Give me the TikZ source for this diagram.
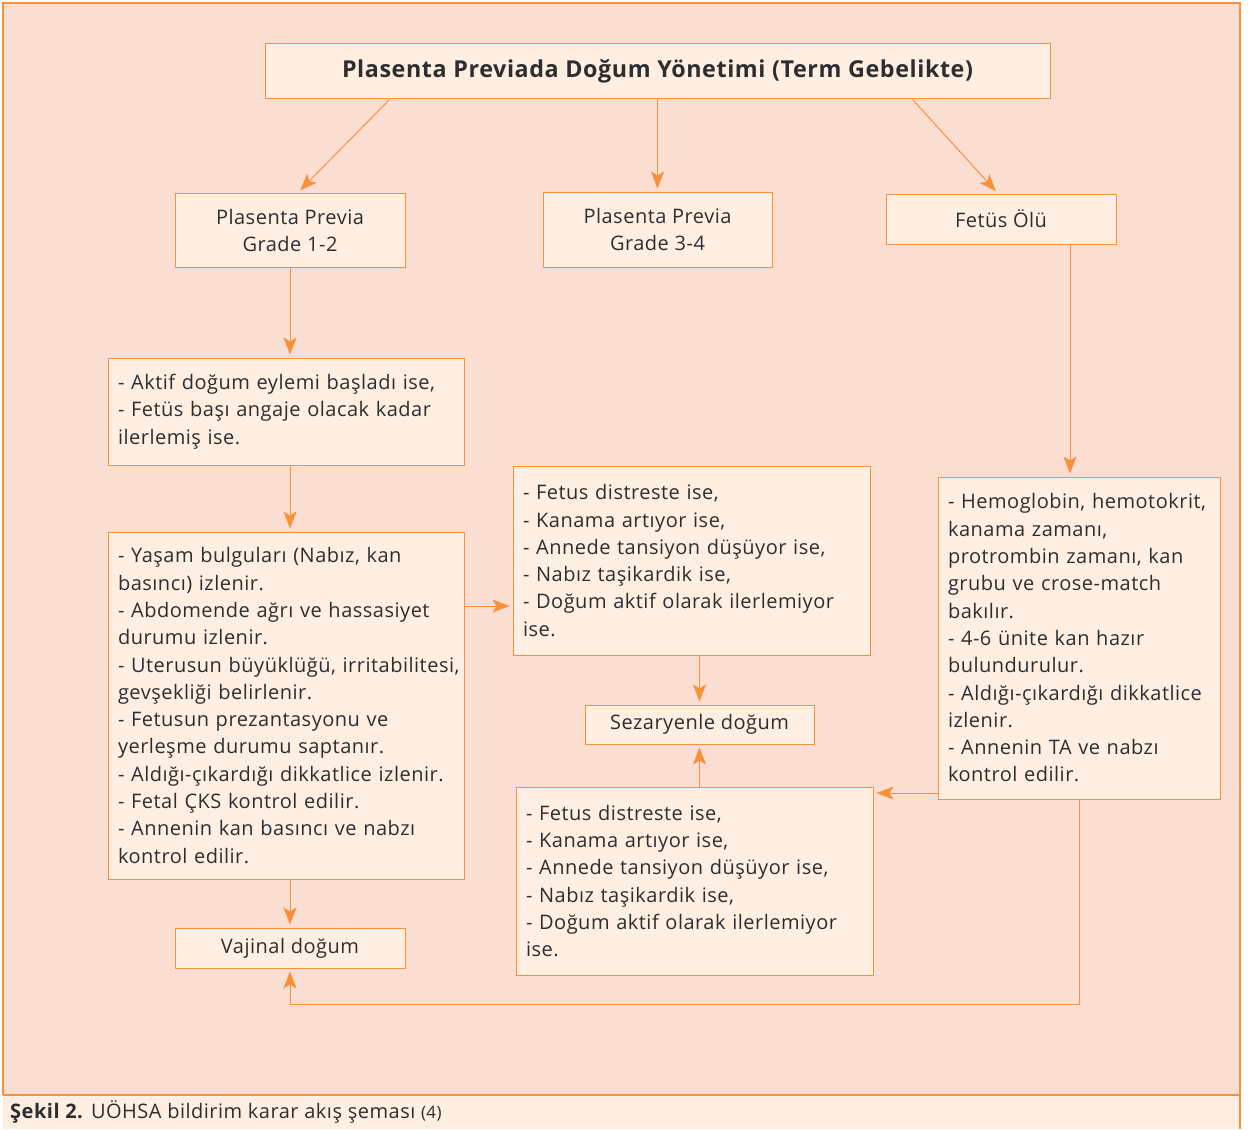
\documentclass[tikz,border=0pt]{standalone}
\usepackage{fontspec}
\setmainfont{Open Sans}[LetterSpace=2.5]
\usetikzlibrary{arrows.meta}
\definecolor{bgpeach}{HTML}{FBDED2}
\definecolor{boxfill}{HTML}{FEEFE2}
\definecolor{lineorange}{HTML}{F7923A}
\definecolor{textgray}{HTML}{2E2E2E}

\begin{document}
\begin{tikzpicture}[x=1pt,y=-1pt,
  box/.style={draw=lineorange,fill=boxfill,line width=1pt,text=textgray,inner sep=0pt},
  cbox/.style={box,align=center,font=\fontsize{20}{27}\selectfont},
  lbox/.style={box,align=left,inner xsep=10pt,font=\fontsize{20}{27.3}\selectfont},
  arr/.style={draw=lineorange,line width=1pt,-{Stealth[length=17pt,width=13pt,inset=4pt]},shorten >=3pt}]
  \useasboundingbox (0,0) rectangle (1249,1129);
  % frame and caption strip
  \fill[bgpeach] (3,3) rectangle (1240,1095);
  \fill[boxfill] (3,1095) rectangle (1240,1129);
  \draw[lineorange,line width=1.5pt] (3,1095) -- (3,3) -- (1240,3) -- (1240,1129);
  \draw[lineorange,line width=1.5pt] (3,1095) -- (1240,1095);
  \node[anchor=base west,text=textgray,inner sep=0pt,font=\fontsize{20}{22}\selectfont] (cap) at (10,1118)
    {\textbf{Şekil 2.} UÖHSA bildirim karar akış şeması {\fontsize{17}{18}\selectfont(4)}};

  \node[box,minimum width=785pt,minimum height=55pt,font=\fontsize{23.3}{26}\selectfont\bfseries] (T) at (657.5,71.5)
    {Plasenta Previada Doğum Yönetimi (Term Gebelikte)};

  \node[cbox,minimum width=230pt,minimum height=74pt] (G12) at (290,230) {Plasenta Previa\\Grade 1-2};
  \node[cbox,minimum width=229pt,minimum height=75pt] (G34) at (657.5,229.5) {Plasenta Previa\\Grade 3-4};
  \node[cbox,minimum width=230pt,minimum height=50pt] (FO) at (1001,219) {Fetüs Ölü};

  \node[lbox,text width=336pt,minimum height=107pt] (A1) at (286,411.5)
    {- Aktif doğum eylemi başladı ise,\\- Fetüs başı angaje olacak kadar\\ilerlemiş ise.};
  \node[lbox,text width=336pt,minimum height=347pt] (Y1) at (286,705.5)
    {- Yaşam bulguları (Nabız, kan\\basıncı) izlenir.\\- Abdomende ağrı ve hassasiyet\\durumu izlenir.\\\mbox{- Uterusun büyüklüğü, irritabilitesi,}\\gevşekliği belirlenir.\\- Fetusun prezantasyonu ve\\yerleşme durumu saptanır.\\\mbox{- Aldığı-çıkardığı dikkatlice izlenir.}\\- Fetal ÇKS kontrol edilir.\\- Annenin kan basıncı ve nabzı\\kontrol edilir.};
  \node[cbox,minimum width=230pt,minimum height=40pt] (V) at (290,948) {Vajinal doğum};

  \node[lbox,text width=337pt,minimum height=189pt] (D1) at (691.5,560.5)
    {- Fetus distreste ise,\\- Kanama artıyor ise,\\- Annede tansiyon düşüyor ise,\\- Nabız taşikardik ise,\\- Doğum aktif olarak ilerlemiyor\\ise.};
  \node[cbox,minimum width=229pt,minimum height=39pt] (S) at (699.5,724.5) {Sezaryenle doğum};
  \node[lbox,text width=337pt,minimum height=188pt] (D2) at (694.5,881)
    {- Fetus distreste ise,\\- Kanama artıyor ise,\\- Annede tansiyon düşüyor ise,\\- Nabız taşikardik ise,\\- Doğum aktif olarak ilerlemiyor\\ise.};

  \node[lbox,text width=262pt,minimum height=322pt] (H) at (1079,638)
    {- Hemoglobin, hemotokrit,\\kanama zamanı,\\protrombin zamanı, kan\\grubu ve crose-match\\bakılır.\\- 4-6 ünite kan hazır\\bulundurulur.\\\mbox{- Aldığı-çıkardığı dikkatlice}\\izlenir.\\- Annenin TA ve nabzı\\kontrol edilir.};

  \draw[arr] ([xshift=-268pt]T.south) -- ([xshift=8pt]G12.north);
  \draw[arr] (T.south) -- (G34.north);
  \draw[arr] ([xshift=255pt]T.south) -- ([xshift=-3pt]FO.north);
  \draw[arr] (G12.south) -- (G12.south |- A1.north);
  \draw[arr] (A1.south -| G12.south) -- (G12.south |- Y1.north);
  \draw[arr] ([yshift=99.5pt]Y1.east) -- ([yshift=99.5pt]Y1.east -| D1.west);
  \draw[arr] (D1.south -| S.north) -- (S.north);
  \draw[arr] (D2.north -| S.south) -- (S.south);
  \draw[arr] ([xshift=69pt]FO.south) -- ([xshift=69pt]FO.south |- H.north);
  \draw[arr] ([yshift=-155pt]H.west) -- ([yshift=-155pt]H.west -| D2.east);
  \draw[arr] (Y1.south -| V.north) -- (V.north);
  \draw[arr] (H.south) |- ([yshift=-36pt]V.south) -- (V.south);
\end{tikzpicture}
\end{document}
